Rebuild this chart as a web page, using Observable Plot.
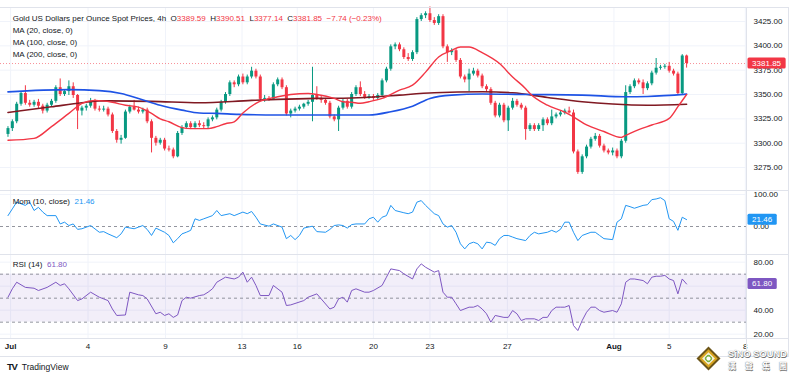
<!DOCTYPE html>
<html><head><meta charset="utf-8">
<script src="https://cdn.jsdelivr.net/npm/d3@7"></script>
<script src="https://cdn.jsdelivr.net/npm/@observablehq/plot@0.6"></script>
<style>
body{margin:0;background:#fff;font-family:"Liberation Sans",Arial,sans-serif;}
#wrap{position:relative;width:796px;height:381px;overflow:hidden;background:#fff}
.p{position:absolute;left:0}
.ln{position:absolute;background:#e0e3eb}
.leg{position:absolute;font-size:8px;color:#131722;white-space:nowrap;line-height:12px;z-index:5}
.leg .k{margin-left:4.5px}
.red{color:#f23645}
#tv{position:absolute;left:7px;top:361px;font-size:8.5px;color:#131722;white-space:nowrap;line-height:12px}
#tv b{font-weight:900;font-size:9.5px;letter-spacing:-1.2px;margin-right:5px}
#sino{position:absolute;left:696px;top:346px;width:95px;height:28px}
.dia{position:absolute;left:4px;top:4px;width:17px;height:17px;transform:rotate(45deg);background:#6b5418;}
.dia .g{position:absolute;left:2px;top:2px;width:13px;height:13px;background:#d9a520}
.dia .w{position:absolute;left:4px;top:4px;width:9px;height:9px;background:#f6f1dc}
.dia .c{position:absolute;left:5px;top:5px;width:7px;height:7px;border-radius:50%;background:#fff;box-shadow:0 0 0 1.5px #7cb342 inset}
.sn1{position:absolute;left:32px;top:3px;font-size:9.3px;font-weight:bold;color:#fff;text-shadow:0 0 1px #555,0.5px 0.5px 0 #777;white-space:nowrap}
.sn2{position:absolute;left:32px;top:15px;width:59px;display:flex;justify-content:space-between;font-size:8px;font-weight:bold;color:#fff;text-shadow:0 0 1px #555,0.5px 0.5px 0 #777;font-family:"Noto Sans CJK TC","Noto Sans CJK SC",sans-serif;line-height:9px}
</style></head><body><div id="wrap"></div>
<script>
// ---- Candles (4h), Jul 1 – Aug 5 ----
const open = [3309,3315,3322,3340,3351,3341,3339,3342,3338,3333,
 3339,3343,3357,3350,3353,3358,3349,3333,3336,3338,
 3343,3335,3334,3335,3329,3312,3303,3305,3332,3337,
 3334,3332,3334,3322,3305,3300,3303,3294,3293,3286,
 3310,3316,3320,3316,3320,3318,3317,3324,3326,3334,
 3342,3350,3362,3360,3368,3362,3368,3374,3368,3345,
 3346,3345,3360,3365,3357,3330,3333,3335,3337,3340,
 3342,3349,3346,3344,3341,3327,3324,3336,3343,3337,
 3350,3357,3350,3347,3348,3346,3349,3364,3376,3399,
 3401,3396,3388,3386,3393,3427,3431,3433,3426,3423,
 3430,3399,3393,3395,3385,3368,3365,3371,3374,3369,
 3358,3355,3341,3328,3339,3323,3336,3343,3339,3336,
 3314,3318,3314,3318,3324,3320,3327,3329,3331,3333,
 3331,3291,3270,3286,3296,3304,3307,3297,3292,3290,
 3292,3286,3302,3352,3358,3364,3362,3356,3361,3372,
 3377,3378,3379,3374,3371,3351,3389.59];
const high = [3317,3324,3342,3353,3359,3344,3344,3345,3340,3341,
 3345,3359,3366,3355,3364,3362,3350,3338,3340,3346,
 3345,3338,3338,3337,3331,3314,3308,3334,3339,3344,
 3337,3336,3336,3324,3307,3305,3305,3297,3295,3312,
 3318,3322,3322,3322,3323,3321,3326,3328,3336,3344,
 3352,3364,3364,3370,3371,3370,3378,3376,3370,3349,
 3348,3362,3367,3367,3359,3335,3337,3339,3341,3344,
 3378,3358,3349,3346,3343,3329,3338,3345,3345,3352,
 3359,3363,3353,3350,3350,3351,3366,3378,3401,3403,
 3403,3398,3392,3395,3429,3433,3435,3440,3429,3432,
 3432,3401,3397,3397,3387,3370,3376,3377,3376,3371,
 3360,3357,3343,3341,3341,3338,3346,3345,3341,3338,
 3320,3320,3320,3326,3326,3334,3331,3333,3335,3337,
 3334,3293,3288,3298,3306,3310,3309,3299,3294,3295,
 3294,3304,3359,3360,3366,3366,3365,3363,3374,3387,
 3380,3381,3383,3376,3373,3391,3390.51];
const low = [3306,3312,3320,3338,3339,3337,3337,3335,3330,3331,
 3337,3341,3348,3348,3349,3346,3314,3328,3333,3336,
 3333,3332,3332,3327,3310,3300,3299,3304,3330,3333,
 3330,3330,3320,3290,3297,3298,3292,3291,3284,3285,
 3308,3314,3314,3314,3316,3315,3315,3322,3324,3332,
 3340,3348,3357,3358,3360,3360,3366,3366,3343,3342,
 3343,3344,3358,3355,3328,3326,3331,3333,3335,3338,
 3322,3344,3341,3339,3325,3322,3312,3334,3335,3335,
 3348,3348,3345,3345,3344,3344,3347,3362,3374,3396,
 3394,3386,3384,3384,3391,3425,3428,3424,3421,3421,
 3397,3383,3390,3383,3366,3362,3353,3369,3367,3356,
 3352,3339,3326,3326,3321,3312,3334,3337,3334,3303,
 3312,3312,3312,3312,3318,3318,3325,3327,3329,3330,
 3289,3268,3268,3284,3294,3302,3295,3290,3288,3287,
 3284,3284,3300,3350,3356,3360,3350,3354,3359,3370,
 3375,3376,3372,3369,3349,3349,3377.14];
const close = [3315,3322,3340,3351,3341,3339,3342,3338,3333,3339,
 3343,3357,3350,3353,3358,3349,3333,3336,3338,3343,
 3335,3334,3335,3329,3312,3303,3305,3332,3337,3334,
 3332,3334,3322,3305,3300,3303,3294,3293,3286,3310,
 3316,3320,3316,3320,3318,3317,3324,3326,3334,3342,
 3350,3362,3360,3368,3362,3368,3374,3368,3345,3346,
 3345,3360,3365,3357,3330,3333,3335,3337,3340,3342,
 3349,3346,3344,3341,3327,3324,3336,3343,3337,3350,
 3357,3350,3347,3348,3346,3349,3364,3376,3399,3401,
 3396,3388,3386,3393,3427,3431,3433,3426,3423,3430,
 3399,3393,3395,3385,3368,3365,3371,3374,3369,3358,
 3355,3341,3328,3339,3323,3336,3343,3339,3336,3314,
 3318,3314,3318,3324,3320,3327,3329,3331,3333,3331,
 3291,3270,3286,3296,3304,3307,3297,3292,3290,3292,
 3286,3302,3352,3358,3364,3362,3356,3361,3372,3377,
 3378,3379,3374,3371,3351,3389.59,3381.85];

// ---- Moving averages (read at candle indices) ----
const ma20Idx = [0,6,10,14,17,20,24,27,30,33,35,37,40,42,44,46,48,50,52,54,57,62,65,69,71,75,77,79,81,83,86,90,93,96,99,102,104,106,109,113,116,119,120,124,128,130,133,137,141,142,145,148,152,154,156];
const ma20Val = [3303,3305,3317,3330.6,3340.8,3344,3342,3339,3337,3330.6,3325,3322,3316,3315,3315,3315,3317,3320,3322,3331,3341,3347.7,3350,3351,3350,3346,3342.6,3342,3341,3342.6,3346,3354.5,3359.6,3373,3388.6,3395.4,3398.8,3398.8,3393,3381.8,3368,3356,3351,3339,3332,3327,3318.7,3312,3306,3308,3314,3318.7,3325.5,3337.5,3350];
const ma100Idx = [0,14,21,26,30,35,40,44,48,53,62,71,83,88,93,97,102,109,120,132,142,147,156];
const ma100Val = [3352.7,3355,3354,3351,3346,3339,3334,3331,3330.6,3329.6,3329,3329,3329,3332.3,3338,3346,3349.4,3350.5,3350,3349.4,3347.7,3348,3350.4];
const ma200Idx = [0,10,17,21,33,44,56,62,71,79,85,90,98,109,116,124,132,139,147,156];
const ma200Val = [3331.6,3337.4,3341.5,3343.5,3343,3341.5,3344,3345,3346,3346.5,3347.7,3349.4,3351.8,3352.8,3351.8,3347,3342.6,3340.2,3339,3340];

// ---- Momentum (10) ----
const momIdx = [0,1,2,4,5,6,7,8,9,11,12,13,14,15,16,17,19,21,22,23,25,26,27,29,30,31,32,33,34,36,37,38,39,40,41,42,43,44,45,47,48,49,51,52,54,55,56,57,58,60,61,63,64,65,66,67,68,69,70,71,73,74,75,76,77,78,79,80,82,83,84,85,86,87,88,89,91,92,93,94,95,96,98,99,100,101,102,103,104,105,106,107,108,109,110,111,112,113,114,115,116,117,119,120,121,122,124,125,126,127,128,129,130,131,132,134,135,136,137,139,140,141,142,143,144,146,147,148,149,150,151,152,153,154,155,156];
const momVal = [34,55,76,66,76,50,60,45,34,34,8,13.5,3,8,-9,-7,3,-18,-16,-23,-35,-23,-2,-7,-2,3,-9,-28,-5,-18,-28,-51,-38,-23,-18,-12,24,19,24,34,50,34,40,34,45,40,47,29,8,1,8,-2,-38,-28,-41,-28,-5,-2,1,-16,-18,-9,3,5,3,-5,6,8,8,24,29,13.5,29,34,66,50,43,40,45,76,81,66,40,34,8,-2,3,-18,-54,-70,-54,-49,-54,-70,-49,-51,-59,-38,-28,-28,-33,-38,-44,-28,-18,-23,-18,-12,-18,-9,13.5,13.5,-18,-44,-28,-18,-18,-28,-38,-41,13.5,24,66,62,57,66,68,84,86,90,81,24,16,-12,29,21.46];

// ---- RSI (14) ----
const rsiIdx = [0,1,2,4,6,7,9,11,12,13,14,16,17,19,21,22,23,24,25,27,28,30,31,32,34,35,36,37,38,39,40,41,42,44,45,46,47,48,50,52,53,54,55,56,57,58,60,61,63,64,65,68,69,71,72,74,75,76,77,78,79,80,82,83,84,86,87,88,90,91,93,94,95,96,98,99,100,101,102,103,104,106,107,108,109,110,111,112,114,115,116,117,118,119,121,122,123,124,125,126,127,128,129,130,131,132,133,134,135,136,137,139,140,141,142,143,144,146,147,148,149,150,151,152,153,154,155,156];
const rsiVal = [50.8,57.8,63.3,59,58.3,56.4,59,63.3,60.6,62,57.8,48,49.4,55,50.8,49.4,48,41,35.6,36,55,52.8,52.2,49.4,37,38.3,35.6,37,34,36,48,50.8,50,52.2,52.8,55,57.8,63.3,67.5,66,67.5,71.7,63.3,67.5,60.6,52.2,52.2,60.6,55,43.9,44.4,48,50.8,53.6,49.4,41,42.5,49.4,50.8,46.7,56.4,57.8,55,55,56.4,60.6,67.5,74.4,73,70.3,66,74.4,78.6,75.8,71.7,73,55,50.8,50.8,45.3,39.7,42.5,42.5,43.9,41,37,30,35.6,34,34,39.7,37,31.4,32.8,32.8,31.4,34,34,39.7,42.5,42.5,42.5,43.9,27.2,23,31.4,38.3,42.5,42.5,39.7,38.3,39.7,38.3,45.3,63.3,66,66,64.7,62,67.5,68.3,68.3,69,66,64.7,53.6,66,61.8];

// ---- Axes ----
const priceTicks = [3275,3300,3325,3350,3375,3400,3425];
const momTicks = [0,100];
const rsiTicks = [20,40,80];
const rsiGrid = [20,40,60,80];
const rsiLevels = [30,50,70];
const dateIdx = [0.6,18.4,36.2,53.8,66.5,84,97,114.8,139.3,152,169.5];
const dateLabels = ["Jul","4","9","13","16","20","23","27","Aug","5","8"];

// ---- Rendering ----
const FONT = '"Liberation Sans", Arial, sans-serif';
const UP = "#089981", DOWN = "#f23645", GRID = "#f0f3fa", TXT = "#131722";
const xDomain = [-1.72, 169.77];
const W = 790, MR = 44;
const style = {fontFamily: FONT, fontSize: "8px", color: TXT, background: "transparent", overflow: "visible"};
const wrap = document.getElementById("wrap");

const candles = close.map((c, i) => ({i, o: open[i], h: high[i], l: low[i], c, col: c >= open[i] ? UP : DOWN}));
const pts = (idx, val) => idx.map((x, k) => ({x, v: val[k]}));

function tag(value, label, color) {
  return (index, scales, values, dims) => {
    const w = label.length * 4.45 + 7;
    const x0 = dims.width - dims.marginRight + 1.5;
    const y = scales.y(value);
    const g = d3.create("svg:g");
    g.append("rect").attr("x", x0).attr("y", y - 5.5).attr("width", w).attr("height", 11).attr("rx", 1.5).attr("fill", color);
    g.append("text").attr("x", x0 + w / 2).attr("y", y).attr("dy", "0.35em").attr("text-anchor", "middle")
      .attr("fill", "#fff").attr("font-size", 8).attr("font-family", FONT).text(label);
    return g.node();
  };
}
function place(svg, top) { svg.classList.add("p"); svg.style.top = top + "px"; wrap.appendChild(svg); }
const rightLabels = (ticks) => Plot.text(ticks, {y: d => d, text: d => d.toFixed(2), frameAnchor: "right", textAnchor: "start", dx: 7, fill: TXT});

const last = close[close.length - 1];

// Main price panel
place(Plot.plot({
  width: W, height: 183, marginLeft: 0, marginRight: MR, marginTop: 0, marginBottom: 0, style,
  x: {domain: xDomain, axis: null},
  y: {domain: [3251.4, 3439.4], axis: null},
  color: {type: "identity"},
  marks: [
    Plot.ruleY(priceTicks, {stroke: GRID}),
    Plot.ruleX(dateIdx, {stroke: GRID}),
    Plot.ruleY([last], {stroke: DOWN, strokeDasharray: "1,2", strokeOpacity: 0.55}),
    Plot.ruleX(candles, {x: "i", y1: "l", y2: "h", stroke: "col", strokeWidth: 1}),
    Plot.ruleX(candles, {x: "i", y1: "o", y2: "c", stroke: "col", strokeWidth: 3, strokeLinecap: "butt"}),
    Plot.line(pts(ma200Idx, ma200Val), {x: "x", y: "v", stroke: "#801922", strokeWidth: 1.6, curve: "monotone-x"}),
    Plot.line(pts(ma100Idx, ma100Val), {x: "x", y: "v", stroke: "#1e53e5", strokeWidth: 1.6, curve: "monotone-x"}),
    Plot.line(pts(ma20Idx, ma20Val), {x: "x", y: "v", stroke: "#f23645", strokeWidth: 1.4, curve: "monotone-x"}),
    rightLabels(priceTicks),
    tag(last, last.toFixed(2), DOWN)
  ]
}), 7);

// Momentum panel
const momLast = momVal[momVal.length - 1];
place(Plot.plot({
  width: W, height: 64, marginLeft: 0, marginRight: MR, marginTop: 0, marginBottom: 0, style,
  x: {domain: xDomain, axis: null},
  y: {domain: [-87.5, 112.5], axis: null},
  marks: [
    Plot.ruleY([100], {stroke: GRID}),
    Plot.ruleX(dateIdx, {stroke: GRID}),
    Plot.ruleY([0], {stroke: "#787b86", strokeDasharray: "3,3", strokeOpacity: 0.8}),
    Plot.line(pts(momIdx, momVal), {x: "x", y: "v", stroke: "#2196f3", strokeWidth: 1}),
    rightLabels(momTicks),
    tag(momLast, momLast.toFixed(2), "#2196f3")
  ]
}), 190);

// RSI panel + time axis
const rsiLast = rsiVal[rsiVal.length - 1];
const dates = dateIdx.map((x, k) => ({x, label: dateLabels[k]}));
place(Plot.plot({
  width: W, height: 102, marginLeft: 0, marginRight: MR, marginTop: 0, marginBottom: 18, style,
  x: {domain: xDomain, axis: null},
  y: {domain: [16.4, 86.4], axis: null},
  marks: [
    Plot.ruleY(rsiGrid, {stroke: GRID}),
    Plot.ruleX(dateIdx, {stroke: GRID}),
    Plot.rect([{lo: rsiLevels[0], hi: rsiLevels[2]}], {y1: "lo", y2: "hi", fill: "#7e57c2", fillOpacity: 0.1}),
    Plot.ruleY(rsiLevels, {stroke: "#787b86", strokeDasharray: "3,3", strokeOpacity: 0.8}),
    Plot.line(pts(rsiIdx, rsiVal), {x: "x", y: "v", stroke: "#7e57c2", strokeWidth: 1}),
    rightLabels(rsiTicks),
    tag(rsiLast, rsiLast.toFixed(2), "#7e57c2"),
    Plot.text(dates.filter(d => isNaN(+d.label)), {x: "x", text: "label", frameAnchor: "bottom", dy: 10, fill: TXT, fontWeight: "bold"}),
    Plot.text(dates.filter(d => !isNaN(+d.label)), {x: "x", text: "label", frameAnchor: "bottom", dy: 10, fill: TXT})
  ]
}), 254);

// Frame lines
[[0,7,789,1],[788,7,1,350],[0,356,789,1],[0,190,789,1],[0,254,789,1],[0,338,789,1],[746,7,1,349]].forEach(([l,t,w,h]) => {
  const d = document.createElement("div"); d.className = "ln";
  Object.assign(d.style, {left: l + "px", top: t + "px", width: w + "px", height: h + "px"});
  wrap.appendChild(d);
});

// Legends
const n = close.length - 1;
const chg = close[n] - close[n - 1];
const pct = chg / close[n - 1] * 100;
const fmtS = v => (v < 0 ? "\u2212" : "+") + Math.abs(v).toFixed(2);
function legend(top, html) { const d = document.createElement("div"); d.className = "leg"; d.style.left = "12.7px"; d.style.top = top + "px"; d.innerHTML = html; wrap.appendChild(d); }
legend(12.5, `Gold US Dollars per Ounce Spot Prices, 4h<span class="k">O</span><span class="red">${open[n].toFixed(2)}</span><span class="k">H</span><span class="red">${high[n].toFixed(2)}</span><span class="k">L</span><span class="red">${low[n].toFixed(2)}</span><span class="k">C</span><span class="red">${close[n].toFixed(2)}</span><span class="k red">${fmtS(chg)} (${fmtS(pct)}%)</span>`);
legend(25, "MA (20, close, 0)");
legend(36.8, "MA (100, close, 0)");
legend(48.5, "MA (200, close, 0)");
legend(195.5, `Mom (10, close)<span class="k" style="color:#2196f3">${momLast.toFixed(2)}</span>`);
legend(259, `RSI (14)<span class="k" style="color:#7e57c2">${rsiLast.toFixed(2)}</span>`);

// Footer marks
const tv = document.createElement("div"); tv.id = "tv"; tv.innerHTML = "<b>TV</b>TradingView"; wrap.appendChild(tv);
const sino = document.createElement("div"); sino.id = "sino";
sino.innerHTML = '<div class="dia"><div class="g"></div><div class="w"></div><div class="c"></div></div><div class="sn1">SiNO SOUND</div><div class="sn2"><span>漢</span><span>聲</span><span>集</span><span>團</span></div>';
wrap.appendChild(sino);
</script></body></html>
